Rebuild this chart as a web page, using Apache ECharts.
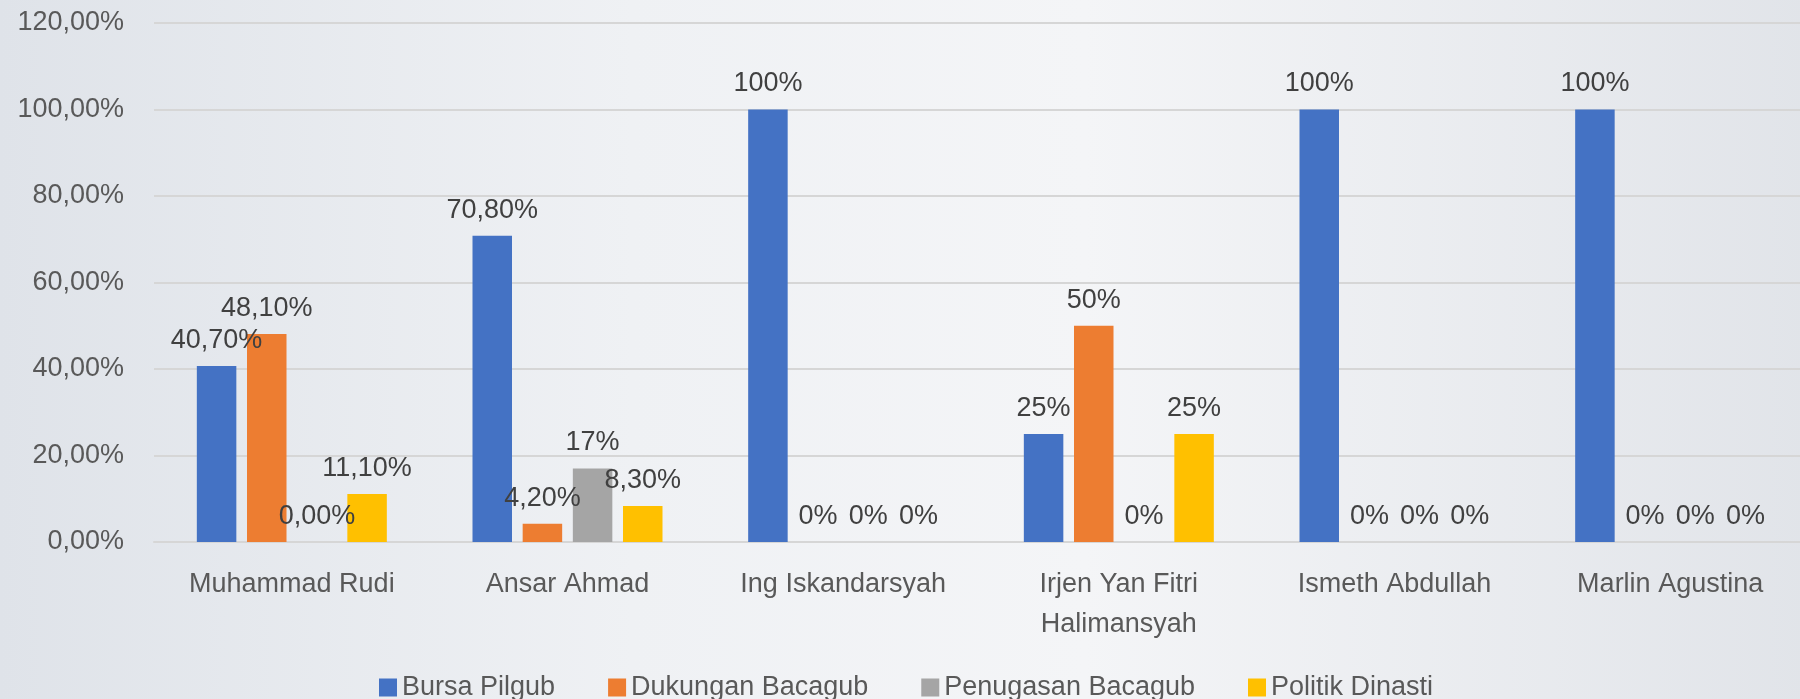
<!DOCTYPE html>
<html>
<head>
<meta charset="utf-8">
<title>Pilgub</title>
<script src="https://cdn.jsdelivr.net/npm/echarts@6/dist/echarts.min.js"></script>
<style>
  html, body { margin: 0; padding: 0; overflow: hidden; }
  /* a bit wider than the window: the plot runs past the right edge like the original */
  #main { width: 1808px; height: 699px; }
</style>
</head>
<body>
<div id="main"></div>
<script>
// data
var categories = ['Muhammad Rudi', 'Ansar Ahmad', 'Ing Iskandarsyah', 'Irjen Yan Fitri\nHalimansyah', 'Ismeth Abdullah', 'Marlin Agustina']
var seriesNames = ['Bursa Pilgub', 'Dukungan Bacagub', 'Penugasan Bacagub', 'Politik Dinasti']
var bursaPilgub = [40.7, 70.8, 100, 25, 100, 100]
var dukunganBacagub = [48.1, 4.2, 0, 50, 0, 0]
var penugasanBacagub = [0, 17, 0, 0, 0, 0]
var politikDinasti = [11.1, 8.3, 0, 25, 0, 0]
// number of decimals shown in each data label
var bursaDec = [2, 2, 0, 0, 0, 0]
var dukunganDec = [2, 2, 0, 0, 0, 0]
var penugasanDec = [2, 0, 0, 0, 0, 0]
var politikDec = [2, 2, 0, 0, 0, 0]
var yTicks = [0, 20, 40, 60, 80, 100, 120]

var colors = ['#4472C4', '#ED7D31', '#A5A5A5', '#FFC000']
var font = "'Liberation Sans', Arial, sans-serif"

function pct(v, d) {
  return v.toFixed(d).replace('.', ',') + '%'
}

function makeSeries(name, values, decs, color) {
  return {
    name: name,
    type: 'bar',
    data: values,
    barWidth: 39.5,
    barGap: '27%',
    itemStyle: { color: color },
    label: {
      show: true,
      position: 'top',
      distance: 12,
      color: '#404040',
      fontFamily: font,
      fontSize: 27,
      formatter: function (p) {
        return pct(p.value, decs[p.dataIndex])
      },
    },
  }
}

var myChart = echarts.init(document.getElementById('main'))
var option = {
  backgroundColor: {
    type: 'linear', x: 0, y: 0, x2: 1, y2: 0,
    colorStops: [
      { offset: 0, color: '#dfe3e9' },
      { offset: 0.35, color: '#eff1f4' },
      { offset: 0.6, color: '#f4f5f7' },
      { offset: 1, color: '#e1e4e9' },
    ],
  },
  animation: false,
  textStyle: { fontFamily: font },
  color: colors,
  grid: { left: 154, right: 0, top: 23, bottom: 157 },
  legend: {
    data: seriesNames,
    left: 374,
    top: 669,
    itemWidth: 18,
    itemHeight: 18,
    itemGap: 53,
    icon: 'rect',
    textStyle: { color: '#595959', fontSize: 27, fontFamily: font },
  },
  xAxis: {
    type: 'category',
    data: categories,
    axisLine: { lineStyle: { color: '#d6d6d6', width: 2 } },
    axisTick: { show: false },
    axisLabel: {
      color: '#595959',
      fontSize: 27,
      fontFamily: font,
      margin: 23,
      lineHeight: 40,
      interval: 0,
    },
  },
  yAxis: {
    type: 'value',
    min: yTicks[0],
    max: yTicks[yTicks.length - 1],
    interval: 20,
    axisLine: { show: false },
    axisTick: { show: false },
    splitLine: { lineStyle: { color: '#d6d6d6', width: 2 } },
    axisLabel: {
      color: '#595959',
      fontSize: 27,
      fontFamily: font,
      margin: 30,
      formatter: function (v) { return pct(v, 2) },
    },
  },
  series: [
    makeSeries(seriesNames[0], bursaPilgub, bursaDec, colors[0]),
    makeSeries(seriesNames[1], dukunganBacagub, dukunganDec, colors[1]),
    makeSeries(seriesNames[2], penugasanBacagub, penugasanDec, colors[2]),
    makeSeries(seriesNames[3], politikDinasti, politikDec, colors[3]),
  ],
}
myChart.setOption(option)
window.addEventListener('resize', function () {
  myChart.resize()
})
</script>
</body>
</html>
